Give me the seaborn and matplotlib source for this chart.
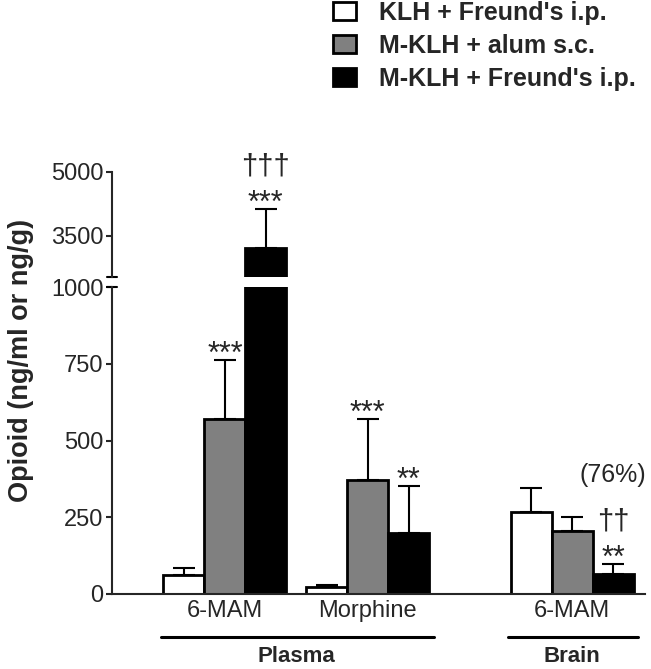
import numpy as np
import pandas as pd
import matplotlib
matplotlib.use("Agg")
import matplotlib.pyplot as plt
import matplotlib.transforms as mtransforms
from matplotlib.patches import Patch
import seaborn as sns

# data
groups = ["6-MAM", "Morphine", "6-MAM"]
tissues = ["Plasma", "Brain"]
treatments = ["KLH + Freund's i.p.", "M-KLH + alum s.c.", "M-KLH + Freund's i.p."]
klh_mean = [62, 22, 267]
klh_sem = [23, 6, 78]
alum_mean = [570, 371, 205]
alum_sem = [192, 199, 46]
freund_mean = [3219, 199, 65]
freund_sem = [914, 153, 33]

# layout
group_pos = [0, 1, 2.43]
bar_width = 0.86
colors = ["white", "#808080", "black"]

means = [klh_mean, alum_mean, freund_mean]
sems = [klh_sem, alum_sem, freund_sem]

rows = []
for t, m in zip(treatments, means):
    for p, v in zip(group_pos, m):
        rows.append({"pos": p, "treatment": t, "value": v})
df = pd.DataFrame(rows)

sns.set_style("ticks")
plt.rcParams["font.family"] = ["Liberation Sans", "DejaVu Sans"]

W, H = 651, 669
fig = plt.figure(figsize=(W / 100, H / 100), dpi=100)
left, right = 112 / W, 645 / W
ax_lo = fig.add_axes([left, 1 - 594 / H, right - left, (594 - 287) / H])
ax_hi = fig.add_axes([left, 1 - 277 / H, right - left, (277 - 172) / H])

off = (np.arange(3) - 1) * bar_width / 3

for ax in (ax_lo, ax_hi):
    sns.barplot(data=df, x="pos", y="value", hue="treatment", hue_order=treatments,
                palette=dict(zip(treatments, colors)), native_scale=True,
                width=bar_width, gap=0, edgecolor="black", linewidth=2,
                errorbar=None, legend=False, ax=ax)
    for i in range(3):
        x = np.array(group_pos) + off[i]
        ax.errorbar(x, means[i], yerr=[np.zeros(3), sems[i]], fmt="none",
                    ecolor="black", elinewidth=1.5, capsize=8, capthick=1.5)
    ax.set_xlim(-0.79, 2.94)
    ax.set_xlabel("")
    ax.set_ylabel("")
    for s in ("top", "right"):
        ax.spines[s].set_visible(False)
    ax.spines["left"].set_linewidth(1.5)
    ax.spines["bottom"].set_linewidth(1.5)
    ax.tick_params(axis="y", length=4, width=1.5, labelsize=17, pad=2)

ax_lo.set_ylim(0, 1000)
ax_lo.set_yticks([0, 250, 500, 750, 1000])
ax_lo.set_xticks(group_pos, groups)
ax_lo.tick_params(axis="x", length=0, labelsize=17, pad=4)

ax_hi.set_ylim(2539, 5000)
ax_hi.set_yticks([3500, 5000])
ax_hi.spines["bottom"].set_visible(False)
ax_hi.set_xticks([])

# axis break marks
d = 0.009
ax_hi.plot([-d, d], [0, 0], transform=ax_hi.transAxes, color="black", lw=1.5, clip_on=False)
ax_lo.plot([-d, d], [1, 1], transform=ax_lo.transAxes, color="black", lw=1.5, clip_on=False)

# significance marks: (group, treatment, text)
stars = [(0, 1, "***"), (0, 2, "***"), (1, 1, "***"), (1, 2, "**"), (2, 2, "**")]
daggers = [(0, 2, "\u2020\u2020\u2020"), (2, 2, "\u2020\u2020")]
for g, t, s in stars:
    ax = ax_hi if means[t][g] > 1000 else ax_lo
    top = means[t][g] + sems[t][g]
    ax.annotate(s, (group_pos[g] + off[t], top), xytext=(0, -2), textcoords="offset points",
                ha="center", va="baseline", fontsize=22, annotation_clip=False)
for g, t, s in daggers:
    ax = ax_hi if means[t][g] > 1000 else ax_lo
    top = means[t][g] + sems[t][g]
    ax.annotate(s, (group_pos[g] + off[t], top), xytext=(0, 25), textcoords="offset points",
                ha="center", va="baseline", fontsize=21, annotation_clip=False)
ax_lo.text(group_pos[2] + off[2], 388, "(76%)", ha="center", va="center", fontsize=18)

# tissue brackets under the x labels
trans = mtransforms.blended_transform_factory(ax_lo.transData, ax_lo.transAxes)
spans = [(group_pos[0], group_pos[1]), (group_pos[2], group_pos[2])]
for name, (a, b) in zip(tissues, spans):
    ax_lo.plot([a - bar_width / 2 - 0.02, b + bar_width / 2 + 0.03], [-0.14, -0.14],
               transform=trans, color="black", lw=2.2, clip_on=False)
    ax_lo.text((a + b) / 2, -0.205, name, transform=trans, ha="center", va="center",
               fontsize=16, fontweight="bold")

fig.text(21 / W, 1 - 360 / H, "Opioid (ng/ml or ng/g)", rotation=90, ha="center",
         va="center", fontsize=19.5, fontweight="bold")

handles = [Patch(facecolor=c, edgecolor="black", linewidth=2) for c in colors]
fig.legend(handles, treatments, loc="upper left", bbox_to_anchor=(333 / W, 1 - 1 / H),
           frameon=False, borderpad=0, borderaxespad=0, handlelength=0.9,
           handleheight=0.75, handletextpad=0.95, labelspacing=0.36,
           prop={"size": 18, "weight": "bold"})

fig.savefig("out.png", dpi=100)
